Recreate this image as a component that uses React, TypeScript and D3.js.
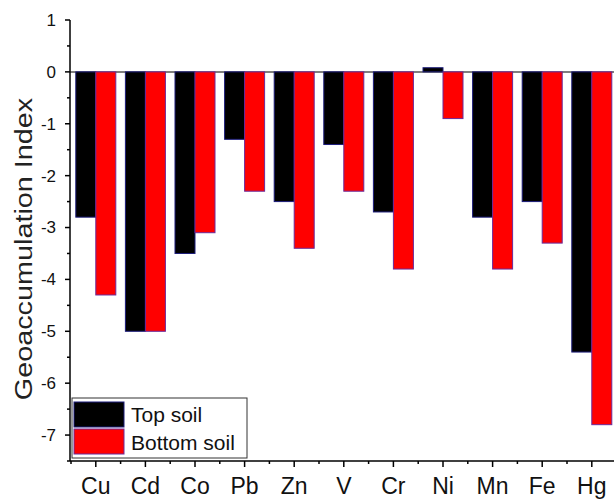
import React from "react";
import * as d3 from "d3";

const elements = ["Cu", "Cd", "Co", "Pb", "Zn", "V", "Cr", "Ni", "Mn", "Fe", "Hg"];
const topSoil = [-2.8, -5.0, -3.5, -1.3, -2.5, -1.4, -2.7, 0.08, -2.8, -2.5, -5.4];
const bottomSoil = [-4.3, -5.0, -3.1, -2.3, -3.4, -2.3, -3.8, -0.9, -3.8, -3.3, -6.8];
const yTicks = [1, 0, -1, -2, -3, -4, -5, -6, -7];

const App = () => {
  const width = 614;
  const height = 499;
  const left = 70;
  const top = 20;
  const bottom = 461;

  const x = d3.scaleBand().domain(elements).range([71, 71 + 11 * 49.6]).padding(0);
  const y = d3.scaleLinear().domain([-7.5, 1]).range([bottom, top]);
  const barW = 20;
  const font = "Liberation Sans, Arial, sans-serif";

  const minorY = d3.range(-7.5, 1, 0.5).filter((v) => !Number.isInteger(v));
  const bounds = elements.map((e) => x(e)!);

  return (
    <svg width={width} height={height} style={{ position: "absolute", left: 0, top: 0 }}>
      <rect width={width} height={height} fill="#fff" />

      {/* zero line */}
      <line x1={left} x2={width} y1={y(0)} y2={y(0)} stroke="#555" strokeWidth={1.5} />

      {/* bars */}
      {elements.map((e, i) => {
        const cx = x(e)! + x.bandwidth() / 2;
        const t = topSoil[i];
        const b = bottomSoil[i];
        return (
          <g key={e}>
            <rect
              x={cx - barW}
              y={Math.min(y(0), y(t))}
              width={barW}
              height={Math.abs(y(t) - y(0))}
              fill="#000"
              stroke="#1c1c7a"
              strokeWidth={1}
            />
            <rect
              x={cx}
              y={Math.min(y(0), y(b))}
              width={barW}
              height={Math.abs(y(b) - y(0))}
              fill="#ff0000"
              stroke="#6a2a9a"
              strokeWidth={1}
            />
          </g>
        );
      })}

      {/* y axis */}
      <line x1={left} x2={left} y1={top} y2={bottom} stroke="#000" strokeWidth={1.5} />
      {yTicks.map((v) => (
        <g key={v}>
          <line x1={left - 5} x2={left} y1={y(v)} y2={y(v)} stroke="#000" strokeWidth={1.5} />
          <text
            x={left - 14}
            y={y(v)}
            dy="0.35em"
            textAnchor="end"
            fontFamily={font}
            fontSize={17}
            fill="#111"
          >
            {v}
          </text>
        </g>
      ))}
      {minorY.map((v) => (
        <line key={v} x1={left - 3} x2={left} y1={y(v)} y2={y(v)} stroke="#000" strokeWidth={1.5} />
      ))}
      <text
        transform={`translate(32, 249) rotate(-90) scale(1.2, 1)`}
        textAnchor="middle"
        fontFamily={font}
        fontSize={24}
        fill="#222"
      >
        Geoaccumulation Index
      </text>

      {/* x axis */}
      <line x1={left} x2={width} y1={bottom} y2={bottom} stroke="#000" strokeWidth={1.5} />
      {bounds.map((bx, i) => (
        <line key={"m" + i} x1={bx} x2={bx} y1={bottom} y2={bottom + 3} stroke="#000" strokeWidth={1.5} />
      ))}
      {elements.map((e) => {
        const cx = x(e)! + x.bandwidth() / 2;
        return (
          <g key={"t" + e}>
            <line x1={cx} x2={cx} y1={bottom} y2={bottom + 6} stroke="#000" strokeWidth={1.5} />
            <text x={cx} y={494} textAnchor="middle" fontFamily={font} fontSize={23} fill="#111">
              {e}
            </text>
          </g>
        );
      })}

      {/* legend */}
      <rect x={72} y={398} width={175} height={60} fill="#fff" stroke="#333" strokeWidth={1} />
      <rect x={74} y={402} width={50} height={25} fill="#000" stroke="#1c1c7a" strokeWidth={1} />
      <rect x={74} y={429} width={50} height={25} fill="#ff0000" stroke="#6a2a9a" strokeWidth={1} />
      <text x={131} y={422} fontFamily={font} fontSize={21} fill="#111">
        Top soil
      </text>
      <text x={131} y={450} fontFamily={font} fontSize={21} fill="#111">
        Bottom soil
      </text>
    </svg>
  );
};

export default App;
